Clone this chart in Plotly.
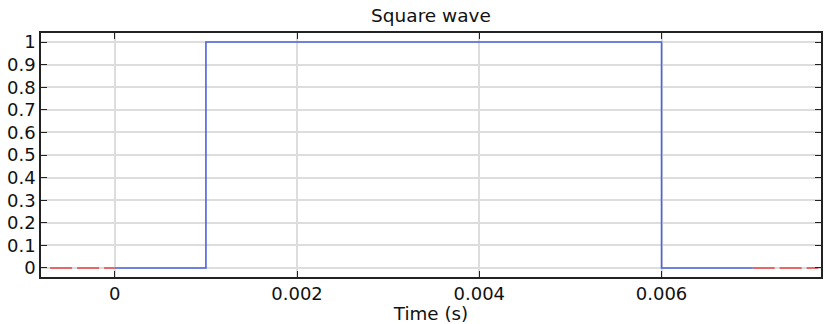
import plotly.graph_objects as go

# Square wave signal (solid) and its extrapolated zero level (dashed)
t_wave = [0.0, 0.001, 0.001, 0.006, 0.006, 0.007]
y_wave = [0, 0, 1, 1, 0, 0]

t_before = [-0.00071, 0.0]
y_before = [0, 0]
t_after = [0.007, 0.00772]
y_after = [0, 0]

x_ticks = [0, 0.002, 0.004, 0.006]
x_tick_labels = ["0", "0.002", "0.004", "0.006"]
y_ticks = [0, 0.1, 0.2, 0.3, 0.4, 0.5, 0.6, 0.7, 0.8, 0.9, 1]
y_tick_labels = ["0", "0.1", "0.2", "0.3", "0.4", "0.5", "0.6", "0.7", "0.8", "0.9", "1"]

fig = go.Figure()
for tx, ty in [(t_before, y_before), (t_after, y_after)]:
    fig.add_trace(go.Scatter(x=tx, y=ty, mode="lines",
                             line=dict(color="#e84040", width=1.6, dash="22px,5px"),
                             showlegend=False, hoverinfo="skip"))
fig.add_trace(go.Scatter(x=t_wave, y=y_wave, mode="lines",
                         line=dict(color="#4a63e0", width=1.6),
                         showlegend=False))

font = dict(family="DejaVu Sans", size=16, color="#111111")
tick_font = dict(family="DejaVu Sans", size=18, color="#111111")
fig.update_layout(
    width=825, height=324,
    margin=dict(l=41, r=2, t=33, b=47),
    paper_bgcolor="white", plot_bgcolor="white",
    font=font,
    title=dict(text="Square wave", x=0.5, xref="paper", xanchor="center",
               y=1 - 16 / 324, yanchor="middle", font=dict(size=18.5)),
    xaxis=dict(range=[-0.00081, 0.00775], tickvals=x_ticks, ticktext=x_tick_labels,
               tickfont=tick_font,
               showgrid=True, gridcolor="#dddddd", gridwidth=2,
               showline=True, linecolor="#222222", linewidth=1.5, mirror="ticks",
               ticks="inside", ticklen=6, tickcolor="#222222",
               zeroline=False,
               title=dict(text="Time (s)", standoff=0, font=dict(size=18.3))),
    yaxis=dict(range=[-0.04, 1.04], tickvals=y_ticks, ticktext=y_tick_labels,
               tickfont=tick_font,
               showgrid=True, gridcolor="#dddddd", gridwidth=2,
               showline=True, linecolor="#222222", linewidth=1.5, mirror="ticks",
               ticks="inside", ticklen=6, tickcolor="#222222",
               zeroline=False),
)

fig.write_html("out.html")
